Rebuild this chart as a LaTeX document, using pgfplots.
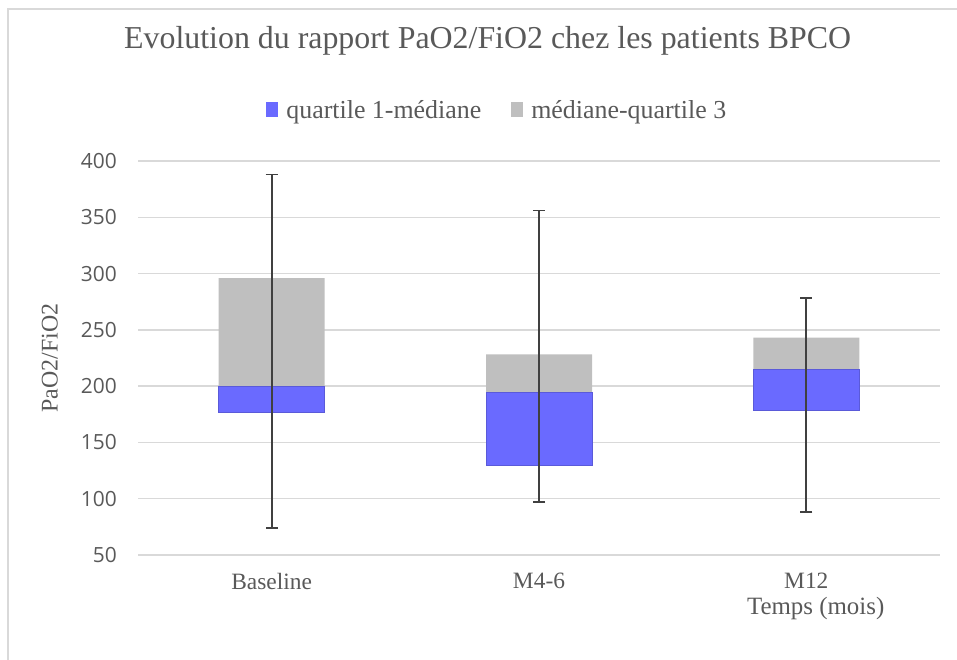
\documentclass[border=0pt]{standalone}
\usepackage{pgfplots}
\pgfplotsset{compat=1.18}
\usepackage{fontspec}
\setmainfont{Liberation Serif}
\newfontfamily\tickfont{Open Sans}
\definecolor{txt}{HTML}{595959}
\definecolor{gridc}{HTML}{D9D9D9}
\definecolor{qblue}{HTML}{6A6AFF}
\definecolor{qgray}{HTML}{BFBFBF}
\definecolor{whisk}{HTML}{404040}
\begin{document}
\begin{tikzpicture}
\path[use as bounding box] (0bp,0bp) rectangle (957bp,660bp);
\draw[gridc, line width=2bp] (8bp,0bp) -- (8bp,651bp) -- (957bp,651bp);
\begin{axis}[
  at={(138bp,105bp)}, anchor=south west,
  scale only axis, width=802bp, height=394bp,
  xmin=-0.5, xmax=2.5, ymin=50, ymax=400,
  clip=false,
  ybar stacked, bar width=106bp,
  xtick={0,1,2}, xticklabels={Baseline,M4-6,M12},
  ytick={50,100,...,400},
  ymajorgrids, grid style={gridc, line width=1.5bp},
  axis line style={draw=none},
  major tick length=0pt,
  tick label style={txt},
  /pgf/number format/assume math mode=true,
  yticklabel style={font=\tickfont\fontsize{21}{24}\selectfont, anchor=east, inner sep=0pt, xshift=-21bp},
  xticklabel style={font=\fontsize{23.5}{26}\selectfont, anchor=north, inner sep=0pt, yshift=-18bp},
  title={Evolution du rapport PaO2/FiO2 chez les patients BPCO},
  title style={at={(axis description cs:0.436,1.289)}, anchor=center, font=\fontsize{32}{36}\selectfont, txt},
  ylabel={PaO2/FiO2},
  ylabel style={at={(axis description cs:-0.11,0.5)}, anchor=center, font=\fontsize{24}{28}\selectfont, txt},
  legend style={at={(axis description cs:0.448,1.129)}, anchor=center, draw=none, fill=none,
    legend columns=2, font=\fontsize{26}{30}\selectfont, text=txt,
    /tikz/every even column/.append style={column sep=28bp}},
  legend image code/.code={\path[#1,draw=none] (0bp,-7bp) rectangle (12bp,8bp);},
  legend cell align=left,
]
\addplot[draw=none, fill=none, forget plot] coordinates {(0,177) (1,129.3) (2,178.5)};
\addplot[fill=qblue, draw=qblue!85!black, line width=0.8bp] coordinates {(0,23) (1,65.2) (2,36.5)};
\addlegendentry{\hspace{6bp}quartile 1-médiane}
\addplot[fill=qgray, draw=none] coordinates {(0,96) (1,33.8) (2,28)};
\addlegendentry{\hspace{6bp}médiane-quartile 3}
\node[font=\fontsize{25}{28}\selectfont, text=txt] at (rel axis cs:0.845,-0.135) {Temps (mois)};
\end{axis}
\begin{axis}[
  at={(138bp,105bp)}, anchor=south west,
  scale only axis, width=802bp, height=394bp,
  xmin=-0.5, xmax=2.5, ymin=50, ymax=400,
  hide axis, clip=false]
\addplot[draw=none, mark=none, mark options={draw=none, fill=none},
  error bars/.cd, y dir=both, y explicit,
  error bar style={draw=whisk, line width=1.8bp},
  error mark options={draw=whisk, rotate=90, mark size=6bp, line width=1.8bp}]
  coordinates {(0,231) +- (0,157) (1,226.5) +- (0,129.5) (2,183) +- (0,95)};
\end{axis}
\end{tikzpicture}
\end{document}
